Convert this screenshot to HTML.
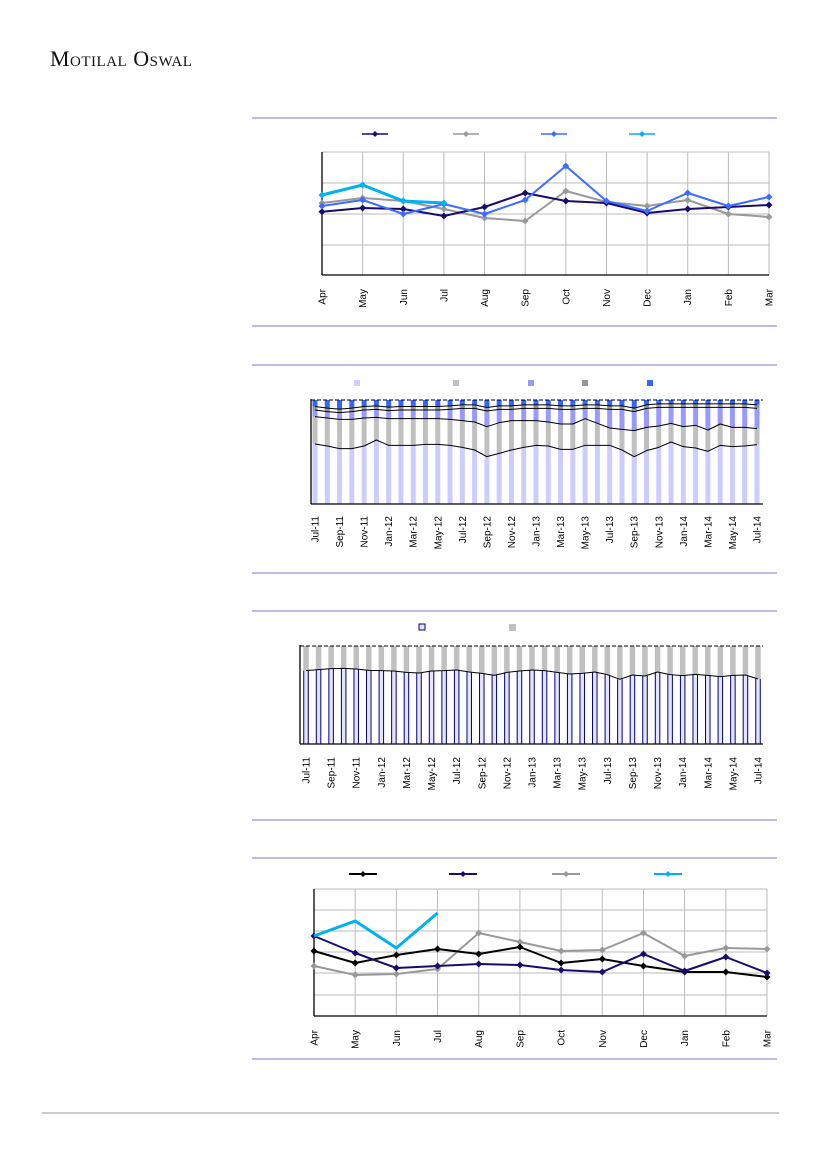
<!DOCTYPE html>
<html><head><meta charset="utf-8"><style>
body{margin:0;background:#fff}
svg{display:block}
</style></head><body>
<svg id="s" width="827" height="1169" xmlns="http://www.w3.org/2000/svg" font-family="Liberation Sans, DejaVu Sans, sans-serif">
<text x="50" y="66" font-family="Liberation Serif, serif" font-size="22" fill="#111" style="font-variant:small-caps;letter-spacing:0.5px">Motilal Oswal</text>
<line x1="42" y1="1113" x2="779" y2="1113" stroke="#999" stroke-width="1"/>
</svg>
<script>
var s=document.getElementById('s'),h='';
function L(x1,y1,x2,y2,c,w,d){h+='<line x1="'+x1+'" y1="'+y1+'" x2="'+x2+'" y2="'+y2+'" stroke="'+c+'" stroke-width="'+w+'"'+(d?' stroke-dasharray="'+d+'"':'')+'/>';}
function R(x,y,w,hh,f,st){h+='<rect x="'+x+'" y="'+y+'" width="'+w+'" height="'+hh+'" fill="'+f+'"'+(st?' stroke="'+st+'" stroke-width="1"':'')+'/>';}
function P(xs,ys,c,w,mk){var p=xs.map(function(x,i){return x+','+ys[i]}).join(' ');h+='<polyline points="'+p+'" fill="none" stroke="'+c+'" stroke-width="'+w+'" stroke-linejoin="round"/>';if(mk)xs.forEach(function(x,i){dm(x,ys[i],c,mk)});}
function dm(x,y,c,r){h+='<polygon points="'+x+','+(y-r)+' '+(x+r)+','+y+' '+x+','+(y+r)+' '+(x-r)+','+y+'" fill="'+c+'"/>';}
function T(x,y,t){h+='<text transform="translate('+(x+3.5)+','+y+') rotate(-90)" text-anchor="end" font-size="10" fill="#000">'+t+'</text>';}
[118,326,365,573,611,820,858,1059].forEach(function(y){L(252,y,777,y,'#a9a4d6',1.5)});
var M=['Apr','May','Jun','Jul','Aug','Sep','Oct','Nov','Dec','Jan','Feb','Mar'];
// chart 1
var x0=322,x1=769,st=(x1-x0)/11,xs=M.map(function(m,i){return x0+i*st});
[152,183,214,245].forEach(function(y){L(x0,y,x1,y,'#bbb',1)});
xs.forEach(function(x,i){if(i>0)L(x,152,x,275,'#bbb',1);T(x,289,M[i])});
L(x0,152,x0,275,'#000',1.3);L(x0,275,x1,275,'#000',1.3);
P(xs,[203,198,201,209,218,221,191,202,206,200,214,217],'#999',2,3.5);
P(xs,[211.7,208,209,216,207,193,201,203,213,209,207,205],'#1a0a6e',2,3.5);
P(xs,[206,200,214,204,214,200,166,201,211,193,206,197],'#3d6cff',2,3.5);
P(xs.slice(0,4),[195,185,201,203],'#00b0f0',3,3.5);
[[362,'#1a0a6e'],[453,'#999'],[541,'#3d6cff'],[629,'#00b0f0']].forEach(function(a){L(a[0],134,a[0]+26,134,a[1],1.5);dm(a[0]+13,134,a[1],3)});
// chart 2
var N=37,b0=315,b1=757,bs=(b1-b0)/36;
function mp(a){return a.map(function(v){return 360+v/3})}
var lav=mp([252,258,266,266,258,240,256,256,256,253,253,256,262,270,290,280,270,262,256,258,268,268,256,256,256,270,290,272,262,246,260,264,274,256,260,258,254]);
var gr=mp([170,174,178,178,174,172,176,176,176,176,176,178,182,186,200,188,182,182,182,186,192,192,176,190,204,208,212,202,198,190,200,196,210,192,202,202,206]);
var pw=mp([150,155,158,155,150,148,152,150,150,150,150,148,145,145,153,148,148,145,145,145,148,148,145,145,148,148,155,145,142,142,142,142,142,142,142,142,145]);
var dg=pw.map(function(v){return v-3.5});
var bx=[];for(var i=0;i<N;i++)bx.push(b0+i*bs);
bx.forEach(function(x,i){var w=5,l=x-w/2;R(l,400,w,dg[i]-400,'#3366ff');R(l,dg[i],w,pw[i]-dg[i],'#969696');R(l,pw[i],w,gr[i]-pw[i],'#9999ff');R(l,gr[i],w,lav[i]-gr[i],'#c0c0c0');R(l,lav[i],w,504-lav[i],'#ccccff');});
P(bx,lav,'#000',1);P(bx,gr,'#000',1);P(bx,pw,'#000',1);P(bx,dg,'#000',1);
L(311,400,763,400,'#000',1,'4,2');
L(311,399,311,504,'#000',1.3);L(311,504,763,504,'#000',1.3);
var ML=['Jul-11','Sep-11','Nov-11','Jan-12','Mar-12','May-12','Jul-12','Sep-12','Nov-12','Jan-13','Mar-13','May-13','Jul-13','Sep-13','Nov-13','Jan-14','Mar-14','May-14','Jul-14'];
ML.forEach(function(t,j){T(b0+2*j*bs,516,t)});
[[357,'#ccccff'],[456,'#c0c0c0'],[531,'#9999ff'],[585,'#969696'],[650,'#3366ff']].forEach(function(a){R(a[0]-3,380,6,6,a[1])});
// chart 3
var c0=306,c1=758,cs=(c1-c0)/36;
var bd=[212,209,206,205,207,211,212,213,217,219,213,212,210,216,220,226,217,213,210,212,217,222,220,216,224,238,225,228,216,224,227,223,226,230,226,225,237].map(function(v){return 600+v/3});
var cx=[];for(i=0;i<N;i++)cx.push(c0+i*cs);
cx.forEach(function(x,i){var l=x-2.75;R(l,646,5.5,bd[i]-646,'#c0c0c0');R(l,bd[i],5.5,744-bd[i],'#e4e4fa');L(l+0.5,bd[i],l+0.5,744,'#000080',1);L(l+5,bd[i],l+5,744,'#000080',1);});
P(cx,bd,'#000',1);
L(300,646,763,646,'#000',1,'4,2');
L(300,645,300,744,'#000',1.3);L(300,744,763,744,'#000',1.3);
ML.forEach(function(t,j){T(c0+2*j*cs,757,t)});
R(419,624,6,6,'#e4e4fa','#000080');R(509,624,7,7,'#c0c0c0');
// chart 4
x0=314;x1=767;st=(x1-x0)/11;xs=M.map(function(m,i){return x0+i*st});
[889,910,931,952,973,995].forEach(function(y){L(x0,y,x1,y,'#bbb',1)});
xs.forEach(function(x,i){if(i>0)L(x,889,x,1016,'#bbb',1);T(x,1030,M[i])});
L(x0,889,x0,1016,'#000',1.3);L(x0,1016,x1,1016,'#000',1.3);
P(xs,[966,975,974,969,933,942,951,950,933,956,948,949],'#999',2,3.5);
P(xs,[951,963,955,949,954,947,963,959,966,972,972,977],'#000',2,3.5);
P(xs,[936,953,968,966,964,965,970,972,954,971,957,973],'#1a0a6e',2,3.5);
P(xs.slice(0,4),[936,921,948,913],'#00b0f0',3,0);
[[349,'#000'],[449,'#1a0a6e'],[552,'#999'],[654,'#00b0f0']].forEach(function(a){L(a[0],874,a[0]+28,874,a[1],2);dm(a[0]+14,874,a[1],3)});
s.insertAdjacentHTML('beforeend',h);
</script>
</body></html>
